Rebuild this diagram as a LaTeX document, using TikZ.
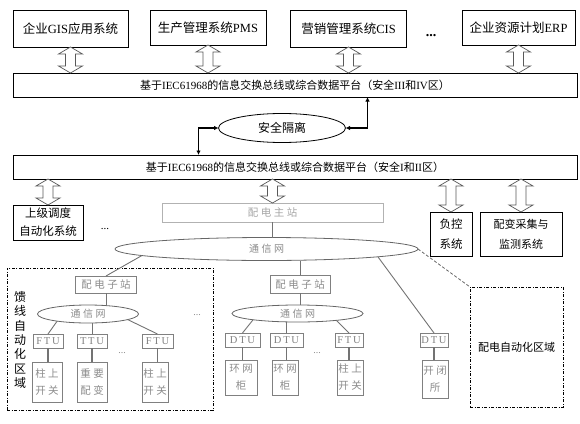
\documentclass[tikz,border=0pt]{standalone}
\usepackage{fontspec}
\setmainfont{Liberation Serif}
\newfontfamily\cjk{Noto Sans CJK SC}
\usetikzlibrary{shapes.geometric,arrows.meta,calc,positioning}
\newcommand\zh[1]{{\cjk #1}}
\newcommand\gap{\hspace{2.5pt}}

\begin{document}
\begin{tikzpicture}[x=1pt,y=-1pt,every node/.style={outer sep=0pt,inner sep=0pt},
    sys/.style={draw,line width=0.9pt,align=center,font=\fontsize{12.5}{14}\selectfont},
    bus/.style={draw,line width=0.9pt,minimum width=564pt,minimum height=24pt,
    font=\fontsize{11}{13}\selectfont},
    box/.style={draw,line width=0.8pt,align=center,font=\cjk\fontsize{11.5}{18}\selectfont},
    unit/.style={draw=black!50,line width=0.7pt,text=black!50,minimum height=14pt,
    font=\fontsize{10.5}{12}\selectfont},
    dev/.style={draw=black!50,line width=0.7pt,text=black!45,align=center,
    font=\cjk\fontsize{10.5}{17}\selectfont},
    net/.style={ellipse,draw=black!60,line width=0.8pt,text=black!45,
    font=\cjk\fontsize{10}{12}\selectfont},
    area/.style={draw,line width=0.8pt,dash pattern=on 3pt off 1.5pt on 1pt off 1.5pt},
    link/.style={draw=black!55,line width=0.9pt},
    feed/.style={draw=black!55,line width=1.4pt},
    iso/.style={line width=1.5pt,{Latex[length=4.5pt,width=4.5pt]}-{Latex[length=4.5pt,width=4.5pt]}},
    hollow/.style={draw=black!65,fill=white,line width=0.7pt,
    to path={let \p1=(\tikztostart),\p2=(\tikztotarget) in
    (\x1,\y1) -- (\x1-12pt,\y1-7pt) -- (\x1-5pt,\y1-7pt) -- (\x1-5pt,\y2+7pt)
    -- (\x1-12pt,\y2+7pt) -- (\x1,\y2) -- (\x1+12pt,\y2+7pt) -- (\x1+5pt,\y2+7pt)
    -- (\x1+5pt,\y1-7pt) -- (\x1+12pt,\y1-7pt) -- cycle}}]
  \useasboundingbox (0,0) rectangle (580,423);

  % zone III/IV
  \node[sys,minimum width=115pt,minimum height=37pt] (gis) at (70.5,28.5) {\zh{企业}GIS\zh{应用系统}};
  \node[sys,minimum width=116pt,minimum height=35pt] (pms) at (208,27.5) {\zh{生产管理系统}PMS};
  \node[sys,minimum width=116pt,minimum height=37pt] (cis) at (348.5,28.5) {\zh{营销管理系统}CIS};
  \node[sys,minimum width=113pt,minimum height=35pt] (erp) at (518.5,27.5) {\zh{企业资源计划}ERP};
  \node[font=\bfseries\fontsize{14}{14}\selectfont] (dots1) at (431,36) {...};
  \node[bus] (bus1) at (295,85)
   {\zh{基于}IEC61968\zh{的信息交换总线或综合数据平台（安全}III\zh{和}IV\zh{区）}};
  \foreach \X in {gis,pms,cis,erp}
   \draw[hollow] (\X.south) to (\X.south |- bus1.north);

  \node[ellipse,draw,line width=0.8pt,minimum width=127pt,minimum height=29pt,
   font=\cjk\fontsize{12}{14}\selectfont] (sec) at (282,128) {安全隔离};

  % zone I/II
  \node[bus] (bus2) at (295,167)
   {\zh{基于}IEC61968\zh{的信息交换总线或综合数据平台（安全}I\zh{和}II\zh{区）}};
  \draw[iso] (sec.west) -| ([xshift=-20pt]sec.west |- bus2.north);
  \draw[iso] (sec.east) -| ([xshift=22pt]sec.east |- bus1.south);

  \node[box,minimum width=70pt,minimum height=35pt] (up) at (48,222.5) {上级调度\\自动化系统};
  \node[font=\fontsize{11}{12}\selectfont] (dots2) at (105,229) {...};
  \node[draw=black!30,line width=0.7pt,text=black!35,minimum width=221pt,minimum height=19pt,
   font=\cjk\fontsize{10.5}{12}\selectfont] (main) at (272.5,212.5) {配\gap 电\gap 主\gap 站};
  \node[box,minimum width=42pt,minimum height=44pt,font=\cjk\fontsize{11.5}{20}\selectfont]
   (fk) at (451,234) {负控\\系统};
  \node[box,minimum width=82pt,minimum height=44pt,font=\cjk\fontsize{11}{20}\selectfont]
   (pb) at (521,234) {配变采集与\\监测系统};
  \foreach \X in {up,main,fk,pb}
   \draw[hollow] (\X.north |- bus2.south) to (\X.north);

  \node[net,minimum width=303pt,minimum height=23pt] (net) at (266.5,249) {通\gap 信\gap 网};
  \draw[link] (main.south) -- (main.south |- net.north);

  % feeder automation area
  \node[area,minimum width=206pt,minimum height=142pt] (fa) at (110,339) {};
  \node[align=center,font=\cjk\fontsize{12}{14.3}\selectfont] (fal) at (20,340)
   {馈\\线\\自\\动\\化\\区\\域};
  \node[dev,minimum width=61pt,minimum height=17pt] (sub1) at (106,284.5) {配\gap 电\gap 子\gap 站};
  \node[net,minimum width=101pt,minimum height=18pt] (cn1) at (88,314) {通\gap 信\gap 网};
  \node[unit,minimum width=30pt] (f1) at (48,341) {F\,T\,U};
  \node[unit,minimum width=30pt] (t1) at (92,341) {T\,T\,U};
  \node[unit,minimum width=31pt] (f2) at (157.5,341) {F\,T\,U};
  \node[dev,minimum width=30pt,minimum height=40pt] (s1) at (47,382) {柱\gap 上\\开\gap 关};
  \node[dev,minimum width=30pt,minimum height=40pt] (s2) at (92,382) {重\gap 要\\配\gap 变};
  \node[dev,minimum width=26pt,minimum height=40pt] (s3) at (155,382) {柱\gap 上\\开\gap 关};
  \node[text=black!45] (dots3) at (122,353) {...};
  \node[text=black!45] (dots4) at (197,315) {...};
  \draw[link] (net.183) -- (sub1.north);
  \draw[link] (sub1.south) -- (sub1.south |- cn1.north);
  \draw[link] (cn1.193) -- (f1.north);
  \draw[link] (t1.north) -- (t1.north |- cn1.south);
  \draw[link] (cn1.352) -- (f2.north);

  % distribution group
  \node[dev,minimum width=60pt,minimum height=18pt] (sub2) at (300,284) {配\gap 电\gap 子\gap 站};
  \node[net,minimum width=131pt,minimum height=17pt] (cn2) at (297.5,313.5) {通\gap 信\gap 网};
  \node[unit,minimum width=35pt] (d1) at (242.5,340) {D\,T\,U};
  \node[unit,minimum width=33pt] (d2) at (286.5,340) {D\,T\,U};
  \node[unit,minimum width=28pt] (f3) at (349,340) {F\,T\,U};
  \node[unit,minimum width=28pt] (d4) at (434,340) {D\,T\,U};
  \node[dev,minimum width=32pt,minimum height=35pt] (r1) at (241,377.5) {环\gap 网\\柜};
  \node[dev,minimum width=26pt,minimum height=35pt] (r2) at (285,377.5) {环\gap 网\\柜};
  \node[dev,minimum width=26pt,minimum height=35pt] (s4) at (350,377.5) {柱\gap 上\\开\gap 关};
  \node[dev,minimum width=26pt,minimum height=38pt] (k1) at (435,379) {开\gap 闭\\所};
  \node[text=black!45] (dots5) at (317,353) {...};
  \draw[link] (sub2.north) -- (sub2.north |- net.south);
  \draw[link] (sub2.south) -- (sub2.south |- cn2.north);
  \draw[link] (cn2.188) -- (d1.north);
  \draw[link] (d2.north) -- (d2.north |- cn2.south);
  \draw[link] (cn2.350) -- (f3.north);
  \draw[link] (net.356) -- (d4.north);

  \foreach \A/\B in {f1/s1,t1/s2,f2/s3,d1/r1,d2/r2,f3/s4,d4/k1}
   \draw[feed] (\A.south) -- (\A.south |- \B.north);

  % distribution automation area
  \node[area,minimum width=93pt,minimum height=120pt,font=\cjk\fontsize{11}{13}\selectfont]
   (da) at (516.5,347) {配电自动化区域};
  \draw[black!60,line width=0.8pt,densely dashed] (net.east) -- (da.north west);
\end{tikzpicture}
\end{document}
